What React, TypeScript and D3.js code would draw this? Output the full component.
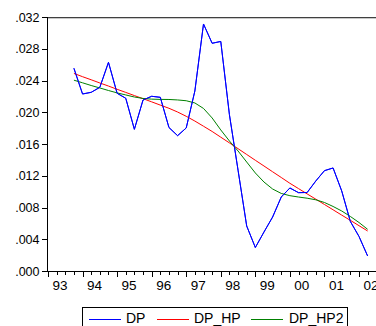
import React from "react";
import * as d3 from "d3";

const quarters = [
  "1993Q4",
  "1994Q1", "1994Q2", "1994Q3", "1994Q4",
  "1995Q1", "1995Q2", "1995Q3", "1995Q4",
  "1996Q1", "1996Q2", "1996Q3", "1996Q4",
  "1997Q1", "1997Q2", "1997Q3", "1997Q4",
  "1998Q1", "1998Q2", "1998Q3", "1998Q4",
  "1999Q1", "1999Q2", "1999Q3", "1999Q4",
  "2000Q1", "2000Q2", "2000Q3", "2000Q4",
  "2001Q1", "2001Q2", "2001Q3", "2001Q4",
  "2002Q1", "2002Q2",
];

const dp = [
  0.02554, 0.0223, 0.02251, 0.02314, 0.02629, 0.02239, 0.02176, 0.01785,
  0.02154, 0.02201, 0.02188, 0.01808, 0.01705, 0.01802, 0.02268, 0.03112,
  0.02869, 0.02892, 0.0197, 0.0127, 0.00567, 0.00296, 0.00491, 0.0068,
  0.00932, 0.01046, 0.00987, 0.00989, 0.01134, 0.01264, 0.01298, 0.01008,
  0.00624, 0.00435, 0.00189,
];

const dpHp = [
  0.02489, 0.02448, 0.02409, 0.02369, 0.0233, 0.02289, 0.0225, 0.0221,
  0.02171, 0.02131, 0.0209, 0.0205, 0.02003, 0.01949, 0.01889, 0.01824,
  0.01758, 0.01686, 0.01614, 0.01541, 0.01468, 0.01395, 0.01323, 0.0125,
  0.01178, 0.01105, 0.01038, 0.00971, 0.00905, 0.00838, 0.00771, 0.00704,
  0.00638, 0.00571, 0.00504,
];

const dpHp2 = [
  0.02404, 0.02371, 0.02337, 0.02306, 0.02274, 0.02244, 0.02218, 0.02192,
  0.02174, 0.02165, 0.02162, 0.02161, 0.02155, 0.02145, 0.02117, 0.02048,
  0.01928, 0.01777, 0.01638, 0.01512, 0.01373, 0.01235, 0.01121, 0.01033,
  0.00977, 0.00949, 0.00932, 0.00917, 0.00897, 0.00863, 0.00813, 0.00756,
  0.00687, 0.00611, 0.00525,
];

const yTicks = [0, 0.004, 0.008, 0.012, 0.016, 0.02, 0.024, 0.028, 0.032];
const years = [1993, 1994, 1995, 1996, 1997, 1998, 1999, 2000, 2001, 2002];
const yearLabels = ["93", "94", "95", "96", "97", "98", "99", "00", "01", "02"];

const seriesNames = ["DP", "DP_HP", "DP_HP2"];
const seriesColors = ["#0000ff", "#ff0000", "#008000"];

const FONT = "'Liberation Sans', Arial, sans-serif";

export default function App() {
  const W = 376;
  const H = 326;
  const x = d3.scaleLinear().domain([1993, 2002]).range([48, 359]);
  const y = d3.scaleLinear().domain([0, 0.032]).range([271, 17]);
  const qDate = (s: string) => +s.slice(0, 4) + (+s.slice(5) - 1) / 4;

  const line = d3
    .line<number>()
    .x((_, i) => x(qDate(quarters[i])))
    .y((d) => y(d));

  const allSeries = [dp, dpHp, dpHp2];
  const quarterTicks = d3.range(1993, 2002.76, 0.25);
  const fmt = (v: number) => d3.format(".3f")(v).replace(/^0/, "");

  const legendItems = [
    { lx: 89, tx: 126 },
    { lx: 157, tx: 194 },
    { lx: 251, tx: 289 },
  ];

  return (
    <svg
      width={W}
      height={H}
      style={{ position: "absolute", left: 0, top: 0, background: "#fff" }}
    >
      <rect x={0} y={0} width={W} height={H} fill="#fff" />
      {/* top frame */}
      <line x1={47.5} x2={W} y1={17.5} y2={17.5} stroke="#404040" strokeWidth={1} />
      <line x1={48} x2={W} y1={18.5} y2={18.5} stroke="#c8c8c8" strokeWidth={1} />
      {/* left axis */}
      <line x1={47.5} x2={47.5} y1={17} y2={271.5} stroke="#000" strokeWidth={1} />
      {/* bottom axis */}
      <line x1={42} x2={W} y1={271.5} y2={271.5} stroke="#000" strokeWidth={1} />

      {yTicks.map((t) => (
        <g key={t}>
          <line
            x1={42}
            x2={47.5}
            y1={Math.round(y(t)) + 0.5}
            y2={Math.round(y(t)) + 0.5}
            stroke="#000"
          />
          <text
            x={39.5}
            y={y(t) + 4.5}
            textAnchor="end"
            fontFamily={FONT}
            fontSize={12.5}
            fill="#000"
          >
            {fmt(t)}
          </text>
        </g>
      ))}

      {quarterTicks.map((q) => {
        const major = Math.abs(q - Math.round(q)) < 1e-6;
        const px = Math.round(x(q)) + 0.5;
        return (
          <line
            key={q}
            x1={px}
            x2={px}
            y1={271.5}
            y2={major ? 277 : 275}
            stroke="#000"
          />
        );
      })}

      {years.map((yr, i) => (
        <text
          key={yr}
          x={x(yr) + 12}
          y={290}
          textAnchor="middle"
          fontFamily={FONT}
          fontSize={13.5}
          fill="#000"
        >
          {yearLabels[i]}
        </text>
      ))}

      <g>
        {allSeries.map((s, k) => (
          <path
            key={k}
            d={line(s) || ""}
            fill="none"
            stroke={seriesColors[k]}
            strokeWidth={1}
            strokeLinejoin="round"
          />
        ))}
        <path
          d={line(dp) || ""}
          fill="none"
          stroke={seriesColors[0]}
          strokeWidth={1}
          strokeLinejoin="round"
        />
      </g>

      {/* legend */}
      <rect
        x={82.5}
        y={307.5}
        width={265}
        height={30}
        fill="#fff"
        stroke="#000"
        strokeWidth={1}
      />
      {seriesNames.map((name, k) => (
        <g key={name}>
          <line
            x1={legendItems[k].lx}
            x2={legendItems[k].lx + 32}
            y1={319.5}
            y2={319.5}
            stroke={seriesColors[k]}
            strokeWidth={1}
          />
          <text
            x={legendItems[k].tx}
            y={323}
            fontFamily={FONT}
            fontSize={14}
            fill="#000"
          >
            {name}
          </text>
        </g>
      ))}
    </svg>
  );
}
